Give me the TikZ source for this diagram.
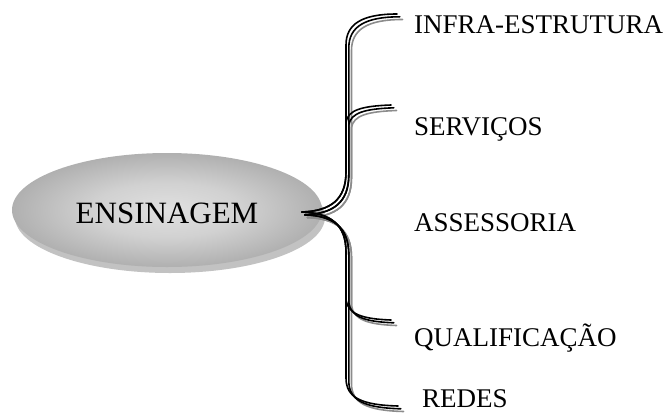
\documentclass[tikz,border=0pt]{standalone}
\usepackage{fontspec}
\setmainfont{Liberation Serif}
\pgfdeclareradialshading{ellshade}{\pgfpoint{0bp}{0bp}}{color(0bp)=(black!12); color(12bp)=(black!18); color(26bp)=(black!32); color(35bp)=(black!46); color(50bp)=(black!46)}
\begin{document}
\begin{tikzpicture}[x=1pt,y=-1pt,
  lbl/.style={anchor=base west,inner sep=0pt,font=\fontsize{27}{29}\selectfont},
  strand/.style={line width=1.6pt,line cap=round}]
\useasboundingbox (0,0) rectangle (667,413);
% shadow and ellipse
\fill[black!24] (170,217) ellipse [x radius=155, y radius=56];
\shade[shading=ellshade] (167,210) ellipse [x radius=155, y radius=57];
\node[inner sep=0pt,font=\fontsize{31}{33}\selectfont] (main) at (167,213) {ENSINAGEM};
% labels
\node[lbl] (l1) at (414,33) {INFRA-ESTRUTURA};
\node[lbl] (l2) at (414,135) {SERVIÇOS};
\node[lbl] (l3) at (414,231) {ASSESSORIA};
\node[lbl] (l4) at (414,346) {QUALIFICAÇÃO};
\node[lbl] (l5) at (422,407) {REDES};
% brace anchors
\coordinate (tip) at (302,212);
\coordinate (e1) at (397,14);
\coordinate (e2) at (391,105);
\coordinate (e4) at (391,320);
\coordinate (e5) at (398,406);
\foreach \d/\c in {5.5/black!45,2.8/black,0/black}{
  \begin{scope}[shift={(\d,\d)}]
  % up branches
  \draw[strand,\c] (302,212) .. controls (330,211) and (346,200) .. (346,172)
     -- (346,45) .. controls (346,24) and (362,14) .. (397,14);
  \draw[strand,\c] (302,212) .. controls (330,211) and (346,200) .. (346,172)
     -- (346,122) .. controls (348,110) and (362,106) .. (391,105);
  % down branches
  \draw[strand,\c] (302,212) .. controls (330,213) and (346,224) .. (346,252)
     -- (346,300) .. controls (348,314) and (362,319) .. (391,320);
  \draw[strand,\c] (302,212) .. controls (330,213) and (346,224) .. (346,252)
     -- (346,378) .. controls (346,398) and (362,405) .. (398,406);
  \end{scope}
}
\end{tikzpicture}
\end{document}
